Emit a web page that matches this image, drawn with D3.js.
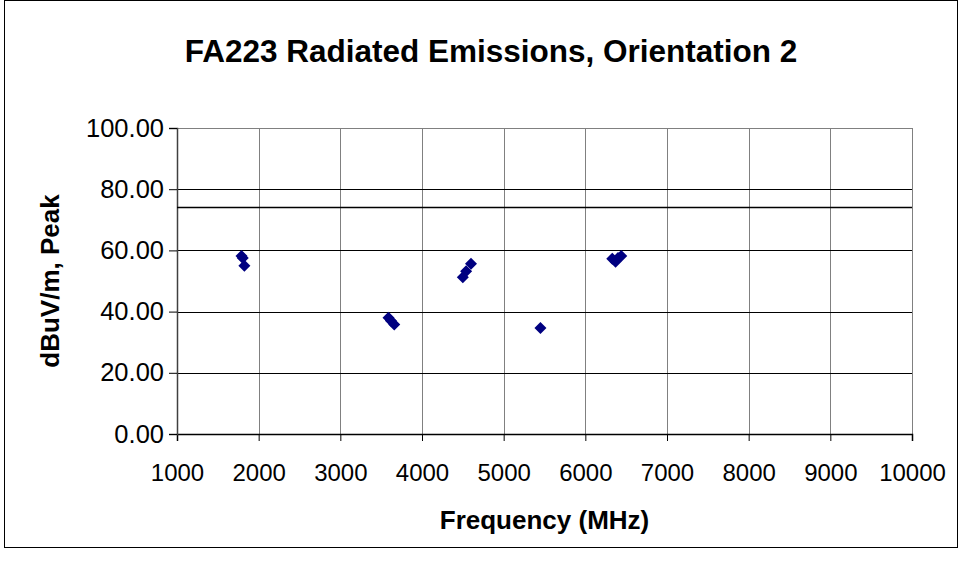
<!DOCTYPE html>
<meta charset="utf-8">
<style>
  body { margin: 0; background: #fff; }
  text { font-family: "Liberation Sans", Arial, sans-serif; }
</style>
<body>
<script src="https://d3js.org/d3.v7.min.js"></script>
<script>
// chart values
var freq  = [1790, 1805, 1825, 3590, 3620, 3660, 4500, 4540, 4600, 5450, 6330, 6370, 6400, 6440];
var level = [58.2, 57.5, 55.0, 38.0, 37.0, 35.8, 51.2, 53.2, 55.6, 34.6, 57.3, 56.3, 57.5, 58.2];
var limit = 74;
var xTicks = [1000, 2000, 3000, 4000, 5000, 6000, 7000, 8000, 9000, 10000];
var yTicks = [0, 20, 40, 60, 80, 100];

var W = 960, H = 563;
var margin = {top: 128, right: 48, bottom: 129, left: 177},
    width = W - margin.left - margin.right,
    height = H - margin.top - margin.bottom;

var svg = d3.select("body").append("svg")
  .attr("width", W)
  .attr("height", H);

// outer chart border
svg.append("rect")
  .attr("x", 4.5).attr("y", 0.5)
  .attr("width", 953).attr("height", 547)
  .attr("fill", "none").attr("stroke", "#000");

var x = d3.scaleLinear().domain([1000, 10000]).range([0, width]),
    y = d3.scaleLinear().domain([0, 100]).range([height, 0]);

var g = svg.append("g")
  .attr("transform", "translate(" + margin.left + "," + margin.top + ")");

// vertical gridlines
g.selectAll(".vgrid").data(xTicks.slice(1)).enter().append("line")
  .attr("x1", d => Math.round(x(d)) + 0.5).attr("x2", d => Math.round(x(d)) + 0.5)
  .attr("y1", 0).attr("y2", height)
  .attr("stroke", "#808080");

// horizontal gridlines
g.selectAll(".hgrid").data(yTicks.slice(1, -1)).enter().append("line")
  .attr("x1", 0).attr("x2", width)
  .attr("y1", d => Math.round(y(d)) + 0.5).attr("y2", d => Math.round(y(d)) + 0.5)
  .attr("stroke", "#000");

// plot area border
g.append("rect")
  .attr("x", 0.5).attr("y", 0.5)
  .attr("width", width).attr("height", height)
  .attr("fill", "none").attr("stroke", "#808080");

// axes
var xAxis = d3.axisBottom(x).tickValues(xTicks).tickSize(7).tickPadding(23).tickFormat(d3.format("d"));
var yAxis = d3.axisLeft(y).tickValues(yTicks).tickSize(8).tickPadding(5).tickFormat(d3.format(".2f"));

var gx = g.append("g").attr("transform", "translate(0," + height + ")").call(xAxis);
var gy = g.append("g").call(yAxis);

[gx, gy].forEach(function(a) {
  a.select(".domain").attr("stroke", "#000").attr("stroke-width", 1.5);
  a.selectAll(".tick line").attr("stroke", "#000");
  a.selectAll(".tick text").attr("fill", "#000")
    .style("font-family", "'Liberation Sans', Arial, sans-serif")
    .style("font-size", "24px");
});
gy.selectAll(".tick text").style("font-size", "25.5px");
gy.select(".domain").attr("stroke", "#404040");

// limit line
g.append("line")
  .attr("x1", 0).attr("x2", width)
  .attr("y1", y(limit)).attr("y2", y(limit))
  .attr("stroke", "#000").attr("stroke-width", 1.5);

// data markers (diamonds)
var diamond = d3.symbol().type(d3.symbolSquare).size(72);
g.selectAll(".pt").data(freq).enter().append("path")
  .attr("d", diamond)
  .attr("transform", (d, i) => "translate(" + x(d) + "," + y(level[i]) + ") rotate(45)")
  .attr("fill", "#000080");

// titles
svg.append("text")
  .attr("x", 491).attr("y", 62)
  .attr("text-anchor", "middle")
  .style("font-size", "31.5px").style("font-weight", "bold")
  .text("FA223 Radiated Emissions, Orientation 2");

svg.append("text")
  .attr("x", margin.left + width / 2).attr("y", 529)
  .attr("text-anchor", "middle")
  .style("font-size", "26px").style("font-weight", "bold")
  .text("Frequency (MHz)");

svg.append("text")
  .attr("transform", "translate(59," + (margin.top + height / 2) + ") rotate(-90)")
  .attr("text-anchor", "middle")
  .style("font-size", "26px").style("font-weight", "bold")
  .text("dBuV/m, Peak");
</script>
</body>
